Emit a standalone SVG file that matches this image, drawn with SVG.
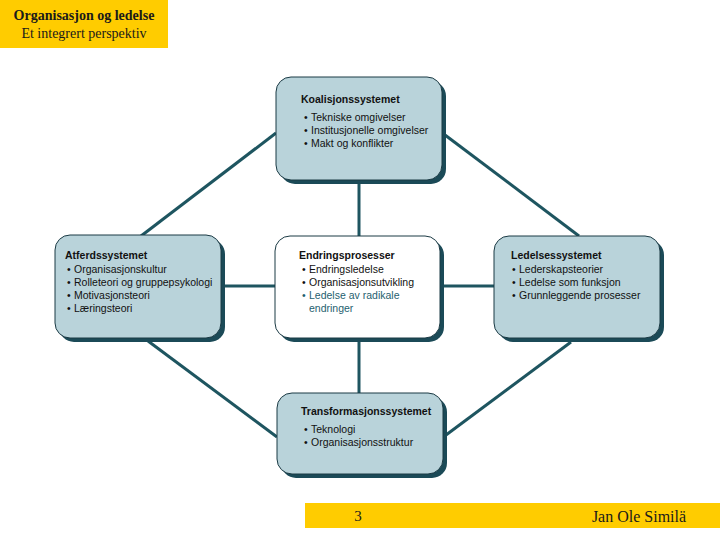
<svg xmlns="http://www.w3.org/2000/svg" width="720" height="540" viewBox="0 0 720 540">
<style>
.band{fill:#FFCC00}
.ser{font-family:"Liberation Serif","Times New Roman",serif;fill:#1a1a1a}
.sh{fill:#1b4a57}
.box{fill:#b9d3da;stroke:#1b3a44;stroke-width:1}
.wbox{fill:#ffffff;stroke:#1b3a44;stroke-width:1}
.t{font-family:"Liberation Sans",Arial,sans-serif;font-size:10.5px;fill:#111}
.b{font-weight:bold}
.blue{fill:#1f5f6f}
.con{stroke:#1e5560;stroke-width:3;fill:none}
</style>
<rect class="band" x="0" y="0" width="168" height="48"/>
<text class="ser" x="84" y="20" font-size="14" font-weight="bold" text-anchor="middle">Organisasjon og ledelse</text>
<text class="ser" x="84" y="38" font-size="14" text-anchor="middle">Et integrert perspektiv</text>
<rect class="band" x="305" y="503" width="415" height="25"/>
<text class="ser" x="358" y="521" font-size="15" text-anchor="middle">3</text>
<text class="ser" x="639" y="522" font-size="16" text-anchor="middle">Jan Ole Similä</text>
<g id="connectors">
<line class="con" x1="359" y1="180" x2="359" y2="236"/>
<line class="con" x1="359" y1="338" x2="359" y2="393"/>
<line class="con" x1="221" y1="286" x2="275" y2="286"/>
<line class="con" x1="440" y1="286" x2="494" y2="286"/>
<line class="con" x1="276" y1="133" x2="141" y2="236"/>
<line class="con" x1="445" y1="135" x2="579" y2="236"/>
<line class="con" x1="148" y1="341" x2="277" y2="437"/>
<line class="con" x1="571" y1="342" x2="446" y2="435"/>
</g>
<g id="koalisjon">
<rect class="sh" x="280" y="81" width="166" height="103" rx="15"/>
<rect class="box" x="276" y="77" width="166" height="103" rx="15"/>
<text class="t b" x="301" y="103">Koalisjonssystemet</text>
<text class="t" x="304" y="121">•</text><text class="t" x="311" y="121">Tekniske omgivelser</text>
<text class="t" x="304" y="134">•</text><text class="t" x="311" y="134">Institusjonelle omgivelser</text>
<text class="t" x="304" y="147">•</text><text class="t" x="311" y="147">Makt og konflikter</text>
</g>
<g id="atferd">
<rect class="sh" x="59" y="239" width="166" height="103" rx="15"/>
<rect class="box" x="55" y="235" width="166" height="103" rx="15"/>
<text class="t b" x="65" y="259">Atferdssystemet</text>
<text class="t" x="67" y="273">•</text><text class="t" x="74" y="273">Organisasjonskultur</text>
<text class="t" x="67" y="286">•</text><text class="t" x="74" y="286">Rolleteori og gruppepsykologi</text>
<text class="t" x="67" y="299">•</text><text class="t" x="74" y="299">Motivasjonsteori</text>
<text class="t" x="67" y="312">•</text><text class="t" x="74" y="312">Læringsteori</text>
</g>
<g id="endring">
<rect class="sh" x="279" y="240" width="165" height="102" rx="15"/>
<rect class="wbox" x="275" y="236" width="165" height="102" rx="15"/>
<text class="t b" x="299" y="259">Endringsprosesser</text>
<text class="t" x="302" y="273">•</text><text class="t" x="309" y="273">Endringsledelse</text>
<text class="t" x="302" y="286">•</text><text class="t" x="309" y="286">Organisasjonsutvikling</text>
<text class="t blue" x="302" y="299">•</text><text class="t blue" x="309" y="299">Ledelse av radikale</text>
<text class="t blue" x="309" y="312">endringer</text>
</g>
<g id="ledelse">
<rect class="sh" x="498" y="240" width="166" height="102" rx="15"/>
<rect class="box" x="494" y="236" width="166" height="102" rx="15"/>
<text class="t b" x="511" y="259">Ledelsessystemet</text>
<text class="t" x="512" y="273">•</text><text class="t" x="519" y="273">Lederskapsteorier</text>
<text class="t" x="512" y="286">•</text><text class="t" x="519" y="286">Ledelse som funksjon</text>
<text class="t" x="512" y="299">•</text><text class="t" x="519" y="299">Grunnleggende prosesser</text>
</g>
<g id="transformasjon">
<rect class="sh" x="281" y="397" width="166" height="81" rx="15"/>
<rect class="box" x="277" y="393" width="166" height="81" rx="15"/>
<text class="t b" x="301" y="415">Transformasjonssystemet</text>
<text class="t" x="304" y="433">•</text><text class="t" x="311" y="433">Teknologi</text>
<text class="t" x="304" y="446">•</text><text class="t" x="311" y="446">Organisasjonsstruktur</text>
</g>
</svg>
